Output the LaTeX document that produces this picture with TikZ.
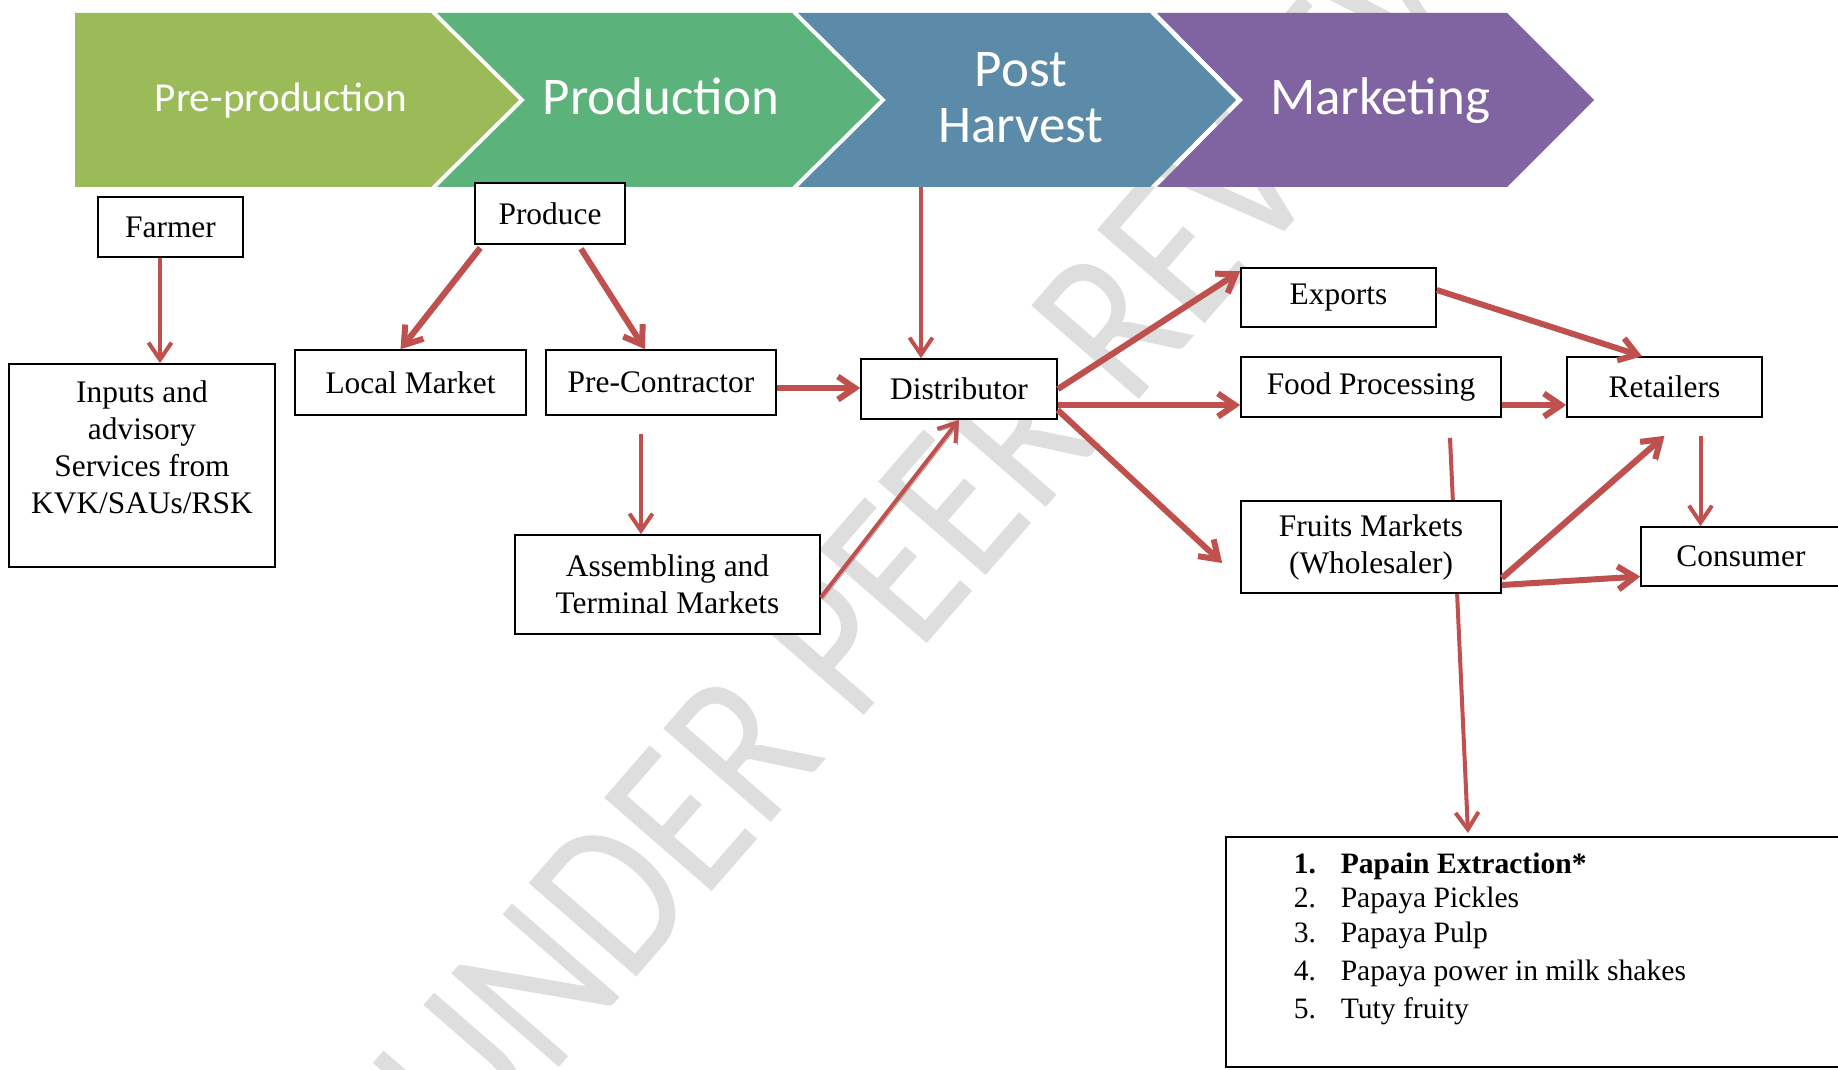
\documentclass[tikz,border=0pt]{standalone}
\usepackage{fontspec}
\setmainfont{Liberation Serif}
\newfontfamily\calibri{Carlito}
\usepackage{tikz}
\usetikzlibrary{arrows.meta,backgrounds}

\definecolor{preprod}{HTML}{9BBB59}
\definecolor{prod}{HTML}{5BB27A}
\definecolor{postharv}{HTML}{5B8BA8}
\definecolor{market}{HTML}{8064A2}
\definecolor{arrowred}{HTML}{C0504D}

\begin{document}
\begin{tikzpicture}[x=0.5pt,y=-0.5pt,
  box/.style={draw=black, line width=0.8pt, fill=white, inner sep=0pt, align=center, font=\fontsize{15.7}{18.5}\selectfont},
  listbox/.style={draw=black, line width=0.8pt, fill=white, inner sep=0pt, font=\fontsize{14.8}{18.5}\selectfont},
  banner/.style={text=white, inner sep=0pt, font=\calibri\fontsize{26.5}{28}\selectfont},
  flow/.style={draw=arrowred, line width=2pt, -{Straight Barb[length=8.5pt,width=11.5pt]}},
  bigflow/.style={flow, line width=3pt, preaction={draw=black!35, transform canvas={shift={(1pt,-1pt)}}}}]

\useasboundingbox (0,0) rectangle (1838,1070);
\begin{scope}[on background layer]
\fill[white] (0,0) rectangle (1838,1070);
\node[anchor=base west, rotate=49, text=black!13, inner sep=0pt, font=\calibri\fontsize{92.5}{92.5}\selectfont] (stamp) at (472,1167) {\scalebox{1}[1.2]{UNDER PEER REVIEW}};
\end{scope}

\fill[preprod] (75,13) -- (431,13) -- (519,100) -- (431,187) -- (75,187) -- cycle;
\node[banner, anchor=base, font=\calibri\fontsize{20.6}{24}\selectfont] (preprodtext) at (281,112) {Pre-production};
\fill[prod] (437,13) -- (792,13) -- (880,100) -- (792,187) -- (437,187) -- (525,100) -- cycle;
\node[banner, anchor=base] (prodtext) at (661,115) {Production};
\fill[postharv] (798,13) -- (1150,13) -- (1236,100) -- (1150,187) -- (798,187) -- (886,100) -- cycle;
\node[banner, align=center] (phtext) at (1021,98) {Post\\Harvest};
\fill[market] (1157,13) -- (1507,13) -- (1594,100) -- (1507,187) -- (1157,187) -- (1243,100) -- cycle;
\node[banner, anchor=base] (mktext) at (1380,115) {Marketing};
\coordinate (phbase) at (921,187);

\node[box, minimum width=72.5pt, minimum height=30pt] (farmer) at (170.5,227) {Farmer};
\node[box, minimum width=133pt, minimum height=101.5pt] (inputs) at (142,465.5) {Inputs and\\advisory\\Services from\\KVK/SAUs/RSK\\\mbox{}};
\node[box, minimum width=75pt, minimum height=30.5pt] (produce) at (550,213.5) {Produce};
\node[box, minimum width=115.5pt, minimum height=32.5pt] (local) at (410.5,382.5) {Local Market};
\node[box, minimum width=115pt, minimum height=32.5pt] (precon) at (661,382.5) {Pre-Contractor};
\node[box, minimum width=152.5pt, minimum height=49.5pt] (assembling) at (667.5,584.5) {Assembling and\\Terminal Markets};
\node[box, minimum width=98pt, minimum height=30pt] (dist) at (959,389) {Distributor};
\node[box, minimum width=97.5pt, minimum height=29.5pt] (exports) at (1338.5,297.5) {Exports};
\node[box, minimum width=130pt, minimum height=30pt] (food) at (1371,387) {Food Processing};
\node[box, minimum width=97.5pt, minimum height=30pt] (ret) at (1664.5,387) {Retailers};
\node[box, minimum width=130pt, minimum height=46pt] (fruits) at (1371,547) {Fruits Markets\\(Wholesaler)};
\node[box, minimum width=100pt, minimum height=29.5pt] (consumer) at (1741,556.5) {Consumer};
\node[listbox, anchor=north west] (uses) at (1225,836) {\begin{minipage}[t][115pt][t]{310pt}
\setlength{\parindent}{0pt}\setlength{\leftskip}{34pt}
\vspace*{8pt}
\makebox[23.5pt][l]{\textbf{1.}}\textbf{Papain Extraction*}\par\vspace{-1.5pt}
\makebox[23.5pt][l]{2.}Papaya Pickles\par\vspace{-1pt}
\makebox[23.5pt][l]{3.}Papaya Pulp\par\vspace{0.5pt}
\makebox[23.5pt][l]{4.}Papaya power in milk shakes\par\vspace{0.5pt}
\makebox[23.5pt][l]{5.}Tuty fruity\par
\end{minipage}};

\draw[flow] ([xshift=-5.25pt]farmer.south) -- ([xshift=-5.25pt]farmer.south |- inputs.north);
\draw[bigflow] ([xshift=3pt,yshift=-1.5pt]produce.south west) -- ([xshift=-5pt]local.north);
\draw[bigflow] ([xshift=15.5pt,yshift=-2pt]produce.south) -- ([xshift=-8pt]precon.north);
\draw[flow] ([xshift=-10pt,yshift=-9pt]precon.south) -- ([xshift=-10pt]precon.south |- assembling.north);
\draw[bigflow] ([yshift=-2.75pt]precon.east) -- ([yshift=-2.75pt]precon.east -| dist.west);
\draw[bigflow, line width=2pt] ([yshift=-6.5pt]assembling.east) -- (dist.south);
\draw[flow] (phbase) -- (phbase |- dist.north);
\draw[bigflow] (dist.east) -- ([yshift=-2pt]exports.north west);
\draw[bigflow] ([yshift=-8pt]dist.east) -- ([yshift=-8pt]dist.east -| food.west);
\draw[bigflow] ([yshift=-10.5pt]dist.east) -- ([xshift=-9pt,yshift=-8pt]fruits.west);
\draw[bigflow] ([yshift=3.75pt]exports.east) -- ([xshift=-11.25pt]ret.north);
\draw[bigflow] ([yshift=-9pt]food.east) -- ([yshift=-9pt]food.east -| ret.west);
\draw[bigflow] ([yshift=-15.5pt]fruits.east) -- ([yshift=-9pt]ret.south);
\draw[bigflow] ([yshift=-19pt]fruits.east) -- ([yshift=-10pt]consumer.west);
\draw[flow] ([xshift=18pt,yshift=-9pt]ret.south) -- ([xshift=18pt]ret.south |- consumer.north);
\begin{scope}[on background layer]
\draw[flow] ([xshift=39.5pt,yshift=-10pt]food.south) -- ([xshift=121.5pt,yshift=1.5pt]uses.north west);
\end{scope}
\end{tikzpicture}
\end{document}
